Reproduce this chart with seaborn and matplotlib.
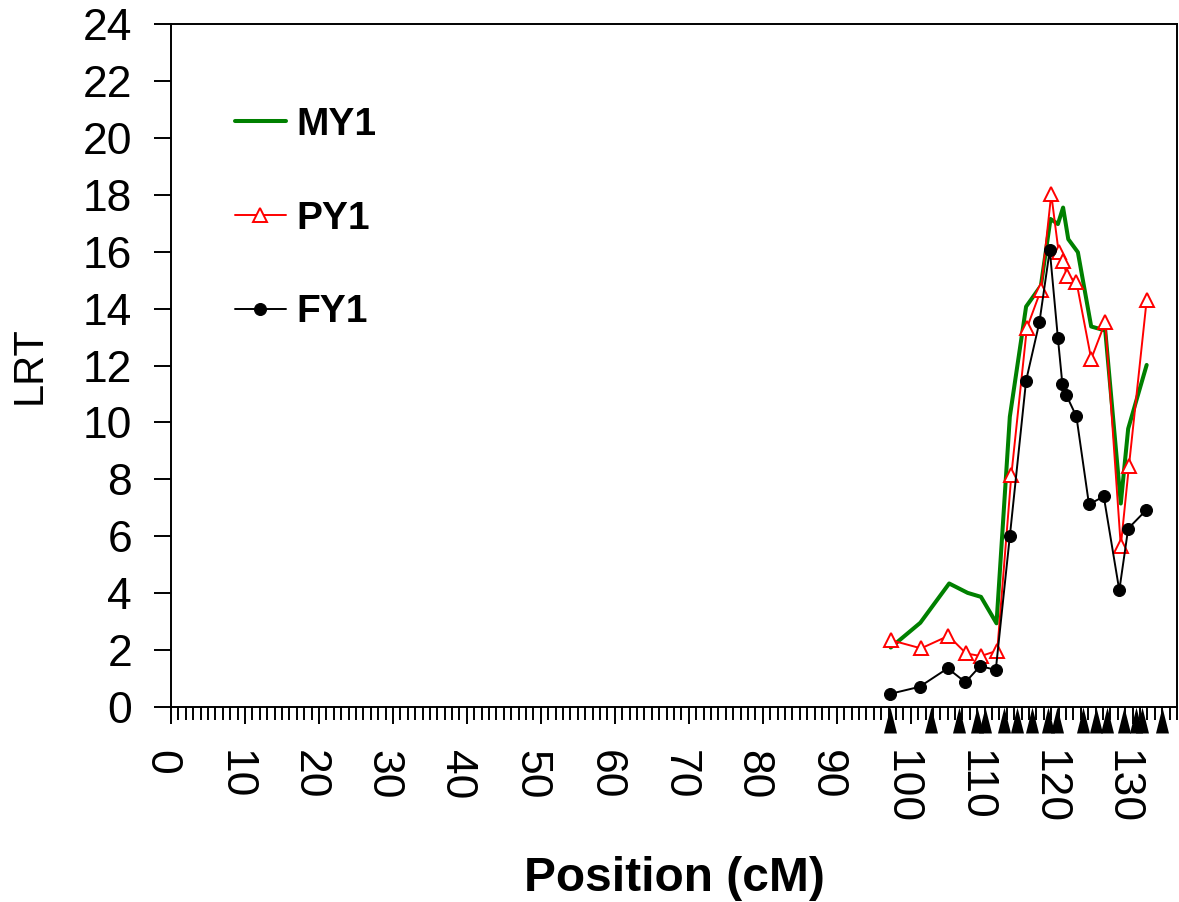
import numpy as np
import pandas as pd
import matplotlib
matplotlib.use("Agg")
import matplotlib.pyplot as plt
import matplotlib.transforms as mtransforms
from matplotlib.ticker import MultipleLocator
import seaborn as sns

# ---- data ----
my1_pos = [97.3, 101.3, 105.2, 107.7, 109.5, 111.6, 113.4, 115.6, 117.6, 118.9,
           119.9, 120.6, 121.3, 122.6, 124.4, 126.3, 128.4, 129.4, 131.9]
my1_lrt = [2.09, 2.96, 4.34, 4.01, 3.87, 2.94, 10.2, 14.07, 14.8, 17.15,
           16.97, 17.55, 16.44, 15.98, 13.37, 13.23, 7.15, 9.78, 12.02]

py1_pos = [97.3, 101.4, 105.1, 107.5, 109.5, 111.7, 113.6, 115.7, 117.6, 119.0,
           120.0, 120.6, 121.1, 122.4, 124.4, 126.3, 128.4, 129.5, 131.9]
py1_lrt = [2.35, 2.06, 2.50, 1.88, 1.79, 1.98, 8.14, 13.31, 14.65, 18.02,
           15.98, 15.68, 15.16, 14.95, 12.23, 13.52, 5.65, 8.46, 14.3]

fy1_pos = [97.2, 101.2, 105.0, 107.4, 109.4, 111.5, 113.4, 115.6, 117.4, 118.8,
           119.9, 120.5, 121.0, 122.4, 124.1, 126.1, 128.2, 129.4, 131.8]
fy1_lrt = [0.46, 0.71, 1.36, 0.87, 1.44, 1.30, 6.0, 11.47, 13.52, 16.06,
           12.96, 11.36, 10.98, 10.21, 7.12, 7.40, 4.1, 6.27, 6.91]

marker_pos = [97.2, 102.8, 106.5, 109.0, 110.0, 112.6, 114.4, 116.4, 118.6, 119.8,
              123.3, 125.0, 126.6, 128.8, 130.5, 131.3, 134.0]

series_names = ["MY1", "PY1", "FY1"]
x_label = "Position (cM)"
y_label = "LRT"

# ---- style ----
sns.set_style("ticks")
plt.rcParams["font.family"] = ["Liberation Sans", "DejaVu Sans"]
plt.rcParams["text.color"] = "black"
plt.rcParams["axes.labelcolor"] = "black"
plt.rcParams["xtick.color"] = "black"
plt.rcParams["ytick.color"] = "black"
plt.rcParams["axes.edgecolor"] = "black"

W, H = 1179, 902
fig = plt.figure(figsize=(W / 100, H / 100), dpi=100)
ax = fig.add_axes([171 / W, 1 - 707 / H, (1177 - 171) / W, (707 - 24) / H])

sns.lineplot(x=my1_pos, y=my1_lrt, ax=ax, color="green", lw=2.9,
             label=series_names[0], sort=False, estimator=None)
sns.lineplot(x=py1_pos, y=py1_lrt, ax=ax, color="red", lw=1.4, marker="^",
             markersize=10, markerfacecolor="white", markeredgecolor="red",
             markeredgewidth=1.4, label=series_names[1], sort=False, estimator=None)
sns.lineplot(x=fy1_pos, y=fy1_lrt, ax=ax, color="black", lw=1.4, marker="o",
             markersize=8.6, markerfacecolor="black", markeredgecolor="black",
             label=series_names[2], sort=False, estimator=None)

tri = np.array([[0.0, 0.0], [-0.5, -2.0], [0.5, -2.0], [0.0, 0.0]])
sns.scatterplot(x=marker_pos, y=[0] * len(marker_pos), ax=ax, marker=tri, s=1400,
                color="black", linewidth=0, clip_on=False, zorder=6, legend=False)

ax.set_xlim(0, 136)
ax.set_ylim(0, 24)
ax.xaxis.set_major_locator(MultipleLocator(10))
ax.xaxis.set_minor_locator(MultipleLocator(1))
ax.set_yticks(np.arange(0, 25, 2))

for sp in ax.spines.values():
    sp.set_visible(True)
    sp.set_linewidth(1.4)
    sp.set_color("black")

ax.tick_params(axis="x", which="major", length=12, width=1.4, pad=19,
               labelsize=32, labelrotation=-90, direction="out", colors="black")
ax.tick_params(axis="x", which="minor", length=9, width=1.4, direction="out", colors="black")
ax.tick_params(axis="y", which="major", length=12, width=1.4, pad=16,
               labelsize=32, direction="out", colors="black")

# shift rotated x tick labels slightly left, as in the reference
shift = mtransforms.ScaledTranslation(-10 / 100, 0, fig.dpi_scale_trans)
for lbl in ax.get_xticklabels():
    lbl.set_transform(lbl.get_transform() + shift)

ax.set_xlabel(x_label, fontsize=34.5, fontweight="bold", labelpad=23, color="black")
ax.set_ylabel(y_label, fontsize=30, labelpad=24, color="black")

ax.legend(loc="upper left", bbox_to_anchor=(235 / W, 1 - 107 / H),
          bbox_transform=fig.transFigure, frameon=False,
          prop={"weight": "bold", "size": 28}, handlelength=1.31,
          handletextpad=0.28, labelspacing=1.48, borderpad=0, borderaxespad=0)

fig.savefig("out.png", dpi=100, facecolor="white")
